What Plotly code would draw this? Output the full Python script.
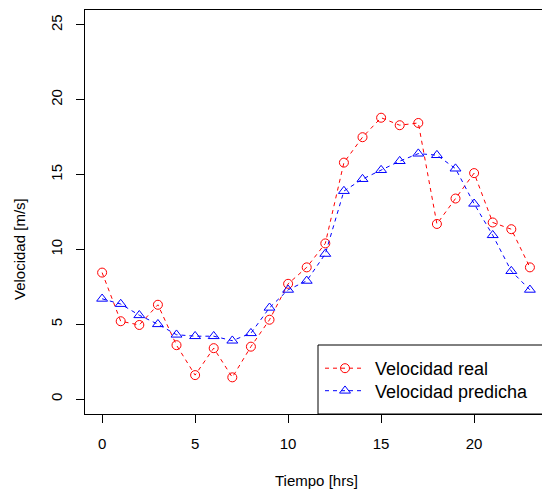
import plotly.graph_objects as go

hours = list(range(24))
vel_real = [8.45, 5.2, 4.95, 6.3, 3.6, 1.6, 3.4, 1.45, 3.5, 5.3, 7.7, 8.8,
            10.4, 15.8, 17.5, 18.8, 18.3, 18.45, 11.7, 13.4, 15.1, 11.8, 11.35, 8.8]
vel_pred = [6.7, 6.35, 5.6, 5.0, 4.3, 4.2, 4.2, 3.9, 4.4, 6.1, 7.3, 7.9,
            9.7, 13.9, 14.7, 15.3, 15.9, 16.4, 16.3, 15.4, 13.05, 10.95, 8.55, 7.3]
x_ticks = [0, 5, 10, 15, 20]
y_ticks = [0, 5, 10, 15, 20, 25]
names = ["Velocidad real", "Velocidad predicha"]

W, H = 542, 490
L, R, T, B = 85, 0, 10, 76
pw = W - L - R
ph = H - T - B
bottom_px = H - B

font = "Liberation Sans, Arial, Helvetica, sans-serif"
NB = "\u00a0"

fig = go.Figure()
fig.add_trace(go.Scatter(
    x=hours, y=vel_real, mode="lines+markers", name=NB + names[0], legend="legend",
    line=dict(color="#ff0000", width=1, dash="4px,4px"),
    marker=dict(symbol="circle-open", size=9, color="#ff0000", line=dict(width=1, color="#ff0000")),
))
fig.add_trace(go.Scatter(
    x=hours, y=vel_pred, mode="lines+markers", name=NB + names[1], legend="legend2",
    line=dict(color="#0000ff", width=1, dash="4px,4px"),
    marker=dict(symbol="triangle-up-open", size=9.5, color="#0000ff", line=dict(width=1, color="#0000ff")),
))

# x range: R's 4% extension of [0,23]; right edge of the canvas cuts it at 542px
px_per_unit = 18.6
x_lo = -0.92
x_hi = x_lo + pw / px_per_unit

leg_common = dict(
    xanchor="left", yanchor="middle",
    bgcolor="rgba(0,0,0,0)", borderwidth=0,
    font=dict(family=font, size=18, color="black"),
    tracegroupgap=0, itemwidth=40,
)

fig.update_layout(
    width=W, height=H,
    margin=dict(l=L, r=R, t=T, b=B, pad=0),
    paper_bgcolor="white", plot_bgcolor="white",
    font=dict(family=font, size=15, color="black"),
    showlegend=True,
    legend=dict(x=(320 - L) / pw, y=(bottom_px - 368.5) / ph, **leg_common),
    legend2=dict(x=(320 - L) / pw, y=(bottom_px - 391) / ph, **leg_common),
    xaxis=dict(
        range=[x_lo, x_hi], tickvals=x_ticks, ticktext=[str(v) for v in x_ticks],
        showgrid=False, zeroline=False, showline=True, linecolor="black", linewidth=1,
        mirror=True, ticks="outside", ticklen=8, tickcolor="black", tickwidth=1,
        tickfont=dict(size=15), ticklabelstandoff=8,
    ),
    yaxis=dict(
        range=[-1, 26], tickvals=y_ticks, ticktext=[str(v) for v in y_ticks],
        showgrid=False, zeroline=False, showline=True, linecolor="black", linewidth=1,
        mirror=False, ticks="outside", ticklen=8, tickcolor="black", tickwidth=1,
        tickfont=dict(size=15), tickangle=-90, ticklabelstandoff=8,
    ),
    shapes=[dict(
        type="rect", xref="paper", yref="paper",
        x0=(318 - L) / pw, x1=1.05, y0=0, y1=(bottom_px - 345) / ph,
        line=dict(color="black", width=1), fillcolor="white", layer="below",
    )],
    annotations=[
        dict(text="Tiempo [hrs]", xref="paper", yref="paper",
             x=(316 - L) / pw, y=-(481 - bottom_px) / ph, xanchor="center", yanchor="middle",
             showarrow=False, font=dict(size=15)),
        dict(text="Velocidad [m/s]", xref="paper", yref="paper",
             x=-(L - 19) / pw, y=(bottom_px - 249) / ph, xanchor="center", yanchor="middle",
             textangle=-90, showarrow=False, font=dict(size=15)),
    ],
)

fig.write_html("out.html")
